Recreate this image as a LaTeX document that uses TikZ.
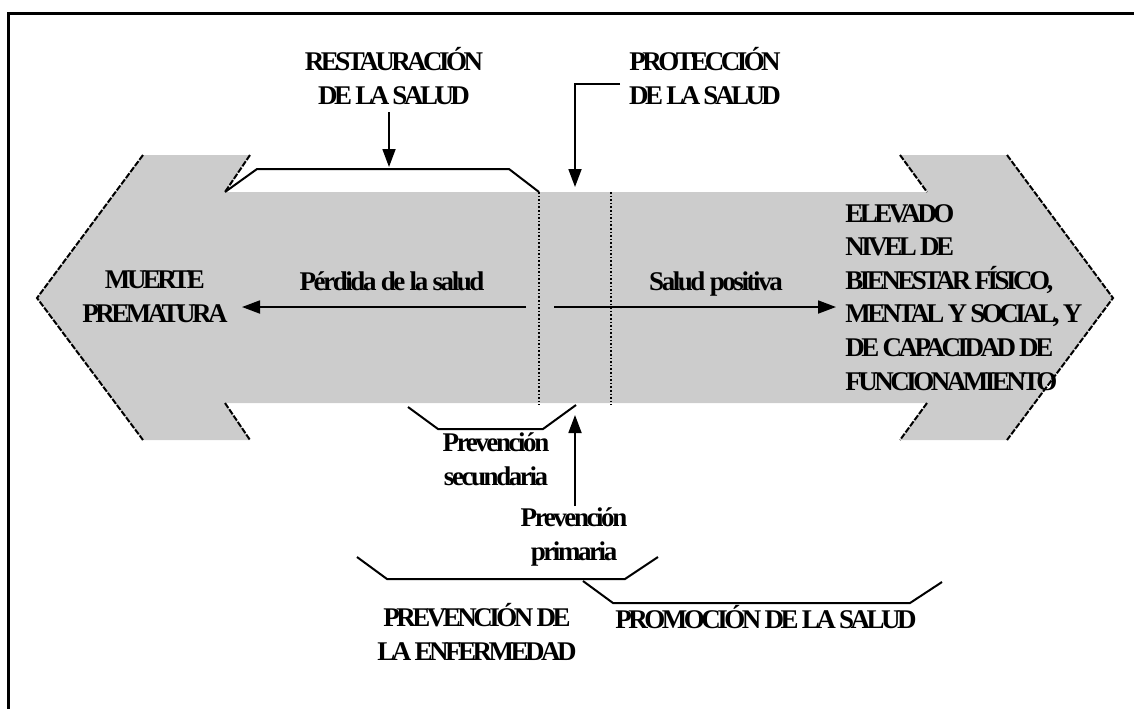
\documentclass[tikz,border=0pt]{standalone}
\usepackage{fontspec}
\setmainfont{Liberation Serif}
\newfontfamily\capsface[LetterSpace=-13]{Liberation Serif}
\newfontfamily\textface[LetterSpace=-9]{Liberation Serif}
\usetikzlibrary{arrows.meta}
\definecolor{band}{gray}{0.8}

\begin{document}
\begin{tikzpicture}[x=0.5pt,y=-0.5pt,
  capslabel/.style={font=\capsface\bfseries\fontsize{13.5}{16.8}\selectfont, inner sep=0pt, align=center},
  smalllabel/.style={font=\textface\bfseries\fontsize{13.5}{16.8}\selectfont, inner sep=0pt, align=center},
  pointer/.style={line width=0.9pt, -{Triangle[width=6.5pt,length=9pt]}},
  bracket/.style={line width=1pt},
  headedge/.style={line width=1pt, dash pattern=on 3pt off 0.8pt},
  divider/.style={line width=0.8pt, densely dotted}]
\useasboundingbox (0,0) rectangle (1134,709);

% frame (top and left sides)
\draw[line width=1.5pt] (1134,13) -- (8.5,13) -- (8.5,709);

% double-headed grey band
\fill[band] (37,298) -- (143,155) -- (250,155) -- (225,192) -- (927,192)
  -- (900,155) -- (1007,155) -- (1113,298) -- (1007,440) -- (900,440)
  -- (927,403) -- (225,403) -- (250,440) -- (143,440) -- cycle;

% outlines of the two heads
\draw[headedge] (143,155) -- (37,298) -- (143,440);
\draw[headedge] (250,155) -- (225,192);
\draw[headedge] (225,403) -- (250,440);
\draw[headedge] (1007,155) -- (1113,298) -- (1007,440);
\draw[headedge] (900,155) -- (927,192);
\draw[headedge] (927,403) -- (900,440);

% dotted dividers of the central zone
\draw[divider] (539,192) -- (539,405);
\draw[divider] (611,192) -- (611,405);

% labels at the ends of the band (anchored at the last baseline)
\node[capslabel, anchor=base] (muerte) at (155,322) {MUERTE\\PREMATURA};
\node[capslabel, anchor=base west, align=left] (bienestar) at (845,390)
  {ELEVADO\\NIVEL DE\\BIENESTAR FÍSICO,\\MENTAL Y SOCIAL, Y\\DE CAPACIDAD DE\\FUNCIONAMIENTO};

% directions along the band
\node[smalllabel, anchor=base] (perdida) at (392,290) {Pérdida de la salud};
\node[smalllabel, anchor=base] (positiva) at (716,290) {Salud positiva};
\coordinate (lossStart) at (526,307);
\coordinate (lossEnd) at (242,307);
\coordinate (gainStart) at (554,307);
\coordinate (gainEnd) at (836,307);
\draw[pointer] (lossStart) -- (lossEnd);
\draw[pointer] (gainStart) -- (gainEnd);

% top labels
\node[capslabel, anchor=base] (restaur) at (394,104) {RESTAURACIÓN\\DE LA SALUD};
\node[capslabel, anchor=base] (protec) at (705,104) {PROTECCIÓN\\DE LA SALUD};
\coordinate (restStart) at (389,112);
\coordinate (restEnd) at (389,167);
\draw[pointer] (restStart) -- (restEnd);
\coordinate (protStart) at (620,84);
\coordinate (protEnd) at (575,187);
\draw[pointer] (protStart) -| (protEnd);

% bracket over the left part of the band
\draw[bracket] (225,192) -- (257,169) -- (509,169) -- (539,192);

% lower labels
\node[smalllabel, anchor=base] (secundaria) at (496,485) {Prevención\\secundaria};
\node[smalllabel, anchor=base] (primaria) at (574,560) {Prevención\\primaria};
\coordinate (primStart) at (575,506);
\coordinate (primEnd) at (575,415);
\draw[pointer] (primStart) -- (primEnd);
\draw[bracket] (408,407) -- (438,429) -- (543,429) -- (576,405);

% lower brackets
\draw[bracket] (357,557) -- (387,579) -- (625,579) -- (658,557);
\draw[bracket] (583,581) -- (613,603) -- (910,603) -- (942,582);
\node[capslabel, anchor=base] (prevenc) at (477,660) {PREVENCIÓN DE\\LA ENFERMEDAD};
\node[capslabel, anchor=base] (promoc) at (766,628) {PROMOCIÓN DE LA SALUD};
\end{tikzpicture}
\end{document}
